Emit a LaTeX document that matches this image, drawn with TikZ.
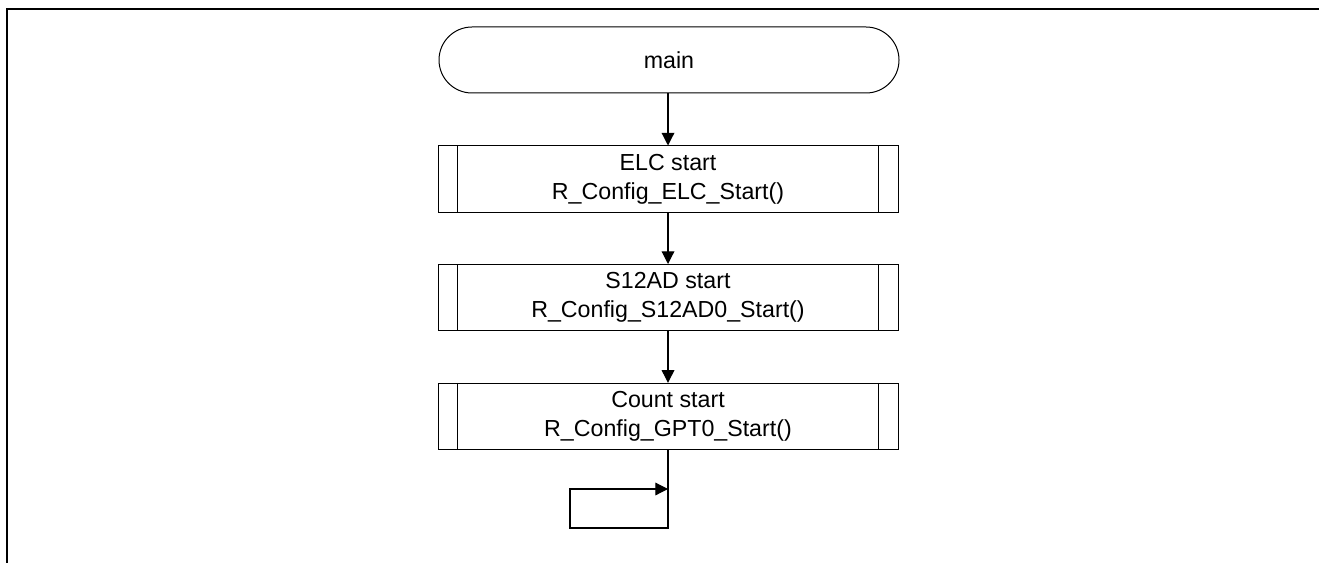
\documentclass[tikz,border=0pt]{standalone}
\usepackage{fontspec}
\setmainfont{Liberation Sans}
\usetikzlibrary{arrows.meta}

\tikzset{
  terminal/.style={draw, line width=0.75pt, rounded corners=24.75pt,
    minimum width=345pt, minimum height=49.5pt, inner sep=0pt},
  subproc/.style={draw, line width=0.75pt, minimum width=345pt,
    minimum height=49.5pt, inner sep=0pt, align=center},
  flow/.style={line width=0.9pt, -{Triangle[length=9.5pt,width=9.5pt]}},
  frameline/.style={line width=1.6pt},
  lbl/.style={font=\fontsize{17.4}{21.5}\selectfont}
}

\begin{document}
\begin{tikzpicture}[x=0.75pt,y=-0.75pt]
  \useasboundingbox (0,0) rectangle (1319,563);

  % outer frame (open at the right and bottom)
  \coordinate (fbl) at (7,563);
  \coordinate (ftl) at (7,9);
  \coordinate (ftr) at (1319,9);
  \draw[frameline] (fbl) -- (ftl) -- (ftr);

  % flow steps
  \node[terminal, lbl] (start) at (669,60) {main};
  \node[subproc, lbl] (elc)   at (668,179)   {ELC start\\R\_Config\_ELC\_Start()};
  \node[subproc, lbl] (adc)   at (668,297.5) {S12AD start\\R\_Config\_S12AD0\_Start()};
  \node[subproc, lbl] (gpt)   at (668,416.3) {Count start\\R\_Config\_GPT0\_Start()};

  % inner side bars of the predefined-process boxes
  \foreach \n in {elc,adc,gpt}{
    \draw[line width=0.75pt] ([xshift=15pt]\n.north west) -- ([xshift=15pt]\n.south west);
    \draw[line width=0.75pt] ([xshift=-15pt]\n.north east) -- ([xshift=-15pt]\n.south east);
  }

  % connectors
  \draw[flow] (start.south -| elc.north) -- (elc.north);
  \draw[flow] (elc.south) -- (adc.north);
  \draw[flow] (adc.south) -- (gpt.north);

  % endless loop
  \coordinate (loopbl) at (570,528);
  \coordinate (loopin) at (668,489);
  \draw[flow] (gpt.south) |- (loopbl) |- (loopin);
\end{tikzpicture}
\end{document}
